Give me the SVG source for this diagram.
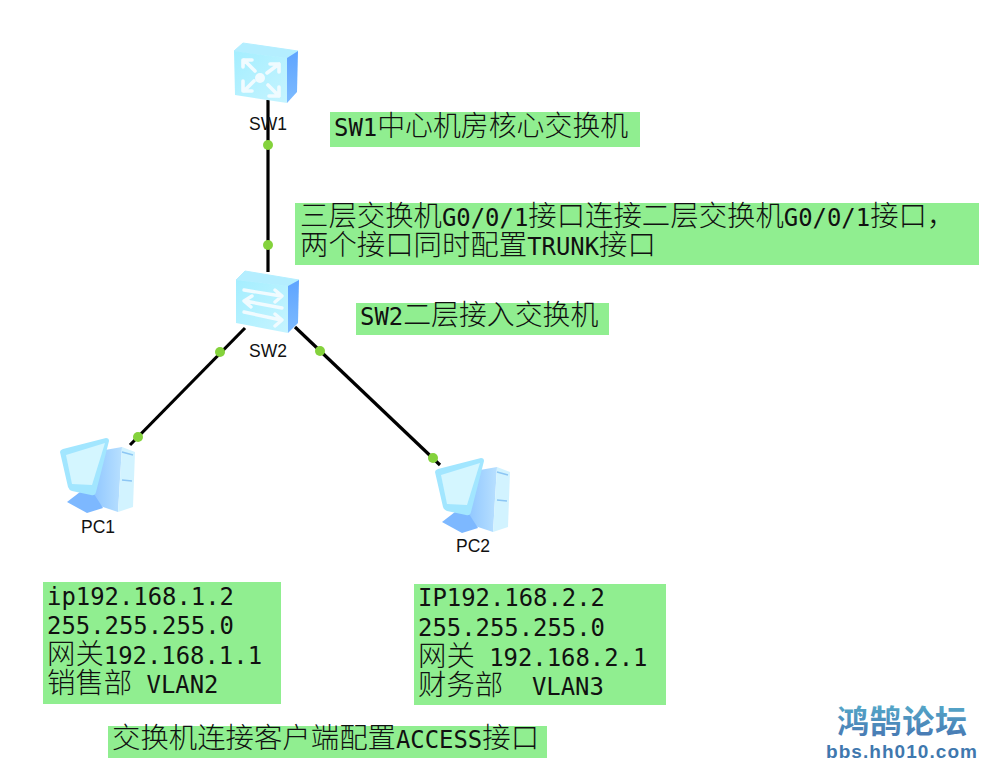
<svg xmlns="http://www.w3.org/2000/svg" width="993" height="779" viewBox="0 0 993 779">
<style>
.note{fill:#90EE90}
.t{font-family:"DejaVu Sans Mono","Liberation Mono",monospace;font-size:23.9px;fill:#111}
.c{font-family:"Noto Sans CJK SC",sans-serif;font-size:28.4px;font-weight:300;fill:#111}
.c2{font-family:"Noto Sans CJK SC",sans-serif;font-size:27.9px;font-weight:300;fill:#111}
.n{font-family:"Liberation Sans",Arial,sans-serif;font-size:17.5px;fill:#111;text-anchor:middle}
.l{stroke:#000;stroke-width:3.2;fill:none}
.d{fill:#84D23C}
.g{fill:none;stroke:#F0FBFF;stroke-linecap:round;stroke-linejoin:round}
</style>
<defs>
<linearGradient id="f" x1="0" y1="0" x2="1" y2="1"><stop offset="0" stop-color="#A4EEFF"/><stop offset="1" stop-color="#C6F4FF"/></linearGradient>
<linearGradient id="s" x1="0" y1="0" x2="0" y2="1"><stop offset="0" stop-color="#5FA4FF"/><stop offset="1" stop-color="#7DBBFF"/></linearGradient>
<linearGradient id="tw" x1="0" y1="0" x2="1" y2="0"><stop offset="0" stop-color="#8CC4FF"/><stop offset="1" stop-color="#B8E0FF"/></linearGradient>
<linearGradient id="lg" x1="0" y1="0" x2="0" y2="1"><stop offset="0" stop-color="#58B4CE"/><stop offset="1" stop-color="#4672B0"/></linearGradient>
<g id="pc">
<path d="M105 450L122 447L118 512L100 506L90 496Z" fill="url(#tw)"/>
<path d="M122 447L135 452L133 507L118 512Z" fill="#D2F3FF"/>
<path d="M122 452L133 455M122 480L132 481" stroke="#8CC6F4" stroke-width="1.5" fill="none"/>
<path d="M67 502L80 492L94 494L103 508L87 513Z" fill="#7DB8FF"/>
<path d="M60 452Q60 450 63 449L106 438Q109 438 109 441L96 492Q95 496 91 495L72 491Q69 490 68 487Z" fill="#A2E6FF"/>
<path d="M66 455L105 443L92 485L72 484Z" fill="#D4F6FF"/>
</g>
</defs>
<rect width="993" height="779" fill="#fff"/>
<g id="connectors">
<path class="l" d="M268 100V272"/>
<path class="l" d="M245 328L130 445"/>
<path class="l" d="M295 327L440 465"/>
<circle class="d" cx="268" cy="145" r="5"/>
<circle class="d" cx="268" cy="245" r="5"/>
<circle class="d" cx="220" cy="352" r="5"/>
<circle class="d" cx="320" cy="351" r="5"/>
<circle class="d" cx="138" cy="437" r="5"/>
<circle class="d" cx="433" cy="458" r="5"/>
</g>
<g id="SW1">
<path d="M234 51L243 43L298 51L287 58Z" fill="#B4EEFF" stroke="#B4EEFF" stroke-linejoin="round"/>
<path d="M287 58L298 51L297 92L287 103Z" fill="url(#s)"/>
<path d="M234 51L287 58L287 103L235 95Z" fill="url(#f)"/>
<path class="g" style="stroke-width:3.6" d="M244 60L255 71M243 67V60M244 60H252M279 64L267 73M270 64H279V72M244 91L254 81M243 81V91H252M279 96L268 85M269 96H279V87"/>
<circle cx="260" cy="78" r="5" fill="#F0FBFF"/>
<text class="n" x="268" y="130">SW1</text>
</g>
<g id="SW2">
<path d="M236 280L245 271L299 280L288 286Z" fill="#B4EEFF" stroke="#B4EEFF" stroke-linejoin="round"/>
<path d="M288 286L299 280L298 323L288 333Z" fill="url(#s)"/>
<path d="M236 280L288 286L288 333L236 323Z" fill="url(#f)"/>
<path class="g" style="stroke-width:3.4" d="M244 290L281 296M275 290L282 296L275 302M282 308L245 301M252 296L244 301L251 307M244 312L281 320M275 314L282 320L275 326"/>
<text class="n" x="268" y="357">SW2</text>
</g>
<g id="PC1">
<use href="#pc"/>
<text class="n" x="98" y="533">PC1</text>
</g>
<g id="PC2">
<use href="#pc" x="375" y="20"/>
<text class="n" x="473" y="552">PC2</text>
</g>
<g id="note-sw1">
<rect class="note" x="330" y="112" width="310" height="35"/>
<text x="334" y="136"><tspan class="t">SW1</tspan><tspan class="c2">中心机房核心交换机</tspan></text>
</g>
<g id="note-trunk">
<rect class="note" x="295" y="203" width="684" height="62"/>
<text x="300" y="226"><tspan class="c">三层交换机</tspan><tspan class="t">G0/0/1</tspan><tspan class="c">接口连接二层交换机</tspan><tspan class="t">G0/0/1</tspan><tspan class="c">接口，</tspan></text>
<text x="300" y="255"><tspan class="c">两个接口同时配置</tspan><tspan class="t">TRUNK</tspan><tspan class="c">接口</tspan></text>
</g>
<g id="note-sw2">
<rect class="note" x="356" y="303" width="253" height="32"/>
<text x="360" y="325"><tspan class="t">SW2</tspan><tspan class="c2">二层接入交换机</tspan></text>
</g>
<g id="note-pc1">
<rect class="note" x="43" y="582" width="238" height="122"/>
<text x="47" y="605" class="t">ip192.168.1.2</text>
<text x="47" y="634" class="t">255.255.255.0</text>
<text x="47" y="664"><tspan class="c">网关</tspan><tspan class="t">192.168.1.1</tspan></text>
<text x="47" y="693"><tspan class="c">销售部</tspan><tspan class="t"> VLAN2</tspan></text>
</g>
<g id="note-pc2">
<rect class="note" x="414" y="584" width="252" height="121"/>
<text x="418" y="606" class="t">IP192.168.2.2</text>
<text x="418" y="636" class="t">255.255.255.0</text>
<text x="418" y="666"><tspan class="c">网关</tspan><tspan class="t" xml:space="preserve"> 192.168.2.1</tspan></text>
<text x="418" y="695"><tspan class="c">财务部</tspan><tspan class="t" xml:space="preserve">  VLAN3</tspan></text>
</g>
<g id="note-access">
<rect class="note" x="108" y="726" width="439" height="32"/>
<text x="112" y="748"><tspan class="c">交换机连接客户端配置</tspan><tspan class="t">ACCESS</tspan><tspan class="c">接口</tspan></text>
</g>
<g id="watermark">
<text x="837" y="733" font-family="'Noto Sans CJK SC',sans-serif" font-size="32" font-weight="700" fill="url(#lg)" textLength="130">鸿鹄论坛</text>
<text x="826" y="758" font-family="'Liberation Sans',Arial,sans-serif" font-size="19" font-weight="700" fill="#3F78AE" textLength="151">bbs.hh010.com</text>
</g>
</svg>
